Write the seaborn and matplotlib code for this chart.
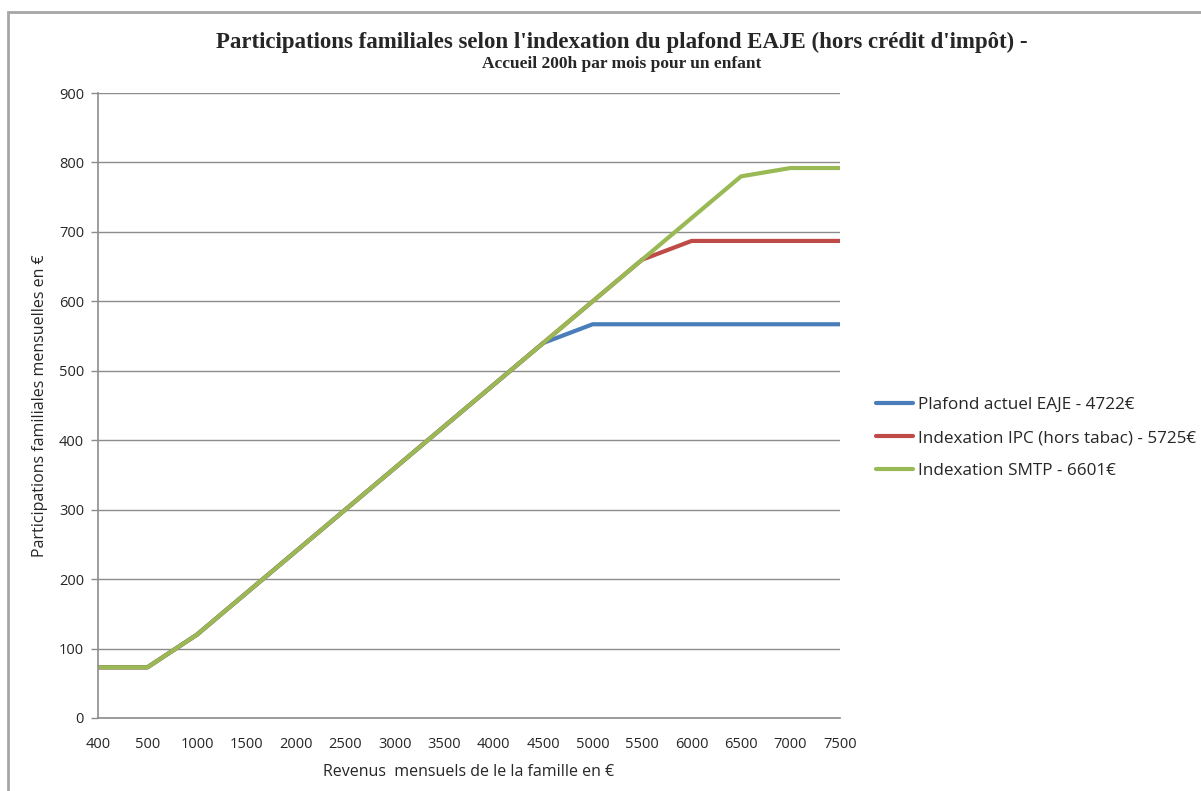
import matplotlib
matplotlib.use("Agg")
import matplotlib.pyplot as plt
import seaborn as sns
import pandas as pd
from matplotlib.lines import Line2D

# Monthly family income categories (€)
revenus = ["400", "500", "1000", "1500", "2000", "2500", "3000", "3500",
           "4000", "4500", "5000", "5500", "6000", "6500", "7000", "7500"]

# Monthly family contributions (€) under each ceiling scenario
plafond_actuel = [73, 73, 120, 180, 240, 300, 360, 420, 480, 540, 567, 567, 567, 567, 567, 567]
indexation_ipc = [73, 73, 120, 180, 240, 300, 360, 420, 480, 540, 600, 660, 687, 687, 687, 687]
indexation_smtp = [73, 73, 120, 180, 240, 300, 360, 420, 480, 540, 600, 660, 720, 780, 792, 792]

series_names = ["Plafond actuel EAJE - 4722€",
                "Indexation IPC (hors tabac) - 5725€",
                "Indexation SMTP - 6601€"]
colors = ["#4A7EBB", "#BE4B48", "#98B954"]

rows = []
for name, vals in zip(series_names, [plafond_actuel, indexation_ipc, indexation_smtp]):
    for i, (r, v) in enumerate(zip(revenus, vals)):
        rows.append({"pos": i, "revenu": r, "valeur": v, "serie": name})
df = pd.DataFrame(rows)

sns.set_theme(style="white")
plt.rcParams["font.family"] = ["Open Sans", "DejaVu Sans"]

fig = plt.figure(figsize=(12.01, 7.91), dpi=100)
ax = fig.add_axes([0.0816, 0.0923, 0.6178, 0.7901])

sns.lineplot(data=df, x="pos", y="valeur", hue="serie", palette=colors,
             hue_order=series_names, linewidth=3, ax=ax, legend=False,
             solid_capstyle="round")

ax.set_xlim(0, len(revenus) - 1)
ax.set_ylim(0, 900)
ax.set_xticks(range(len(revenus)))
ax.set_xticklabels(revenus)
ax.set_yticks(range(0, 901, 100))
ax.yaxis.grid(True, color="#8C8C8C", linewidth=1)
ax.xaxis.grid(False)
for side in ["top", "right"]:
    ax.spines[side].set_visible(False)
for side in ["left", "bottom"]:
    ax.spines[side].set_color("#8C8C8C")
    ax.spines[side].set_linewidth(1.2)
ax.tick_params(axis="y", length=5, color="#8C8C8C", width=1, direction="out",
               labelsize=10.5, pad=5, left=True)
ax.tick_params(axis="x", length=0, labelsize=10.5, pad=14)
ax.set_xlabel("Revenus  mensuels de le la famille en €", fontsize=11.5, labelpad=8)
ax.set_ylabel("Participations familiales mensuelles en €", fontsize=11.5, labelpad=8)

fig.text(0.518, 0.946, "Participations familiales selon l'indexation du plafond EAJE (hors crédit d'impôt) -",
         ha="center", va="center", fontsize=16.5, fontweight="bold",
         family=["Liberation Serif", "DejaVu Serif"])
fig.text(0.518, 0.919, "Accueil 200h par mois pour un enfant",
         ha="center", va="center", fontsize=12.5, fontweight="bold",
         family=["Liberation Serif", "DejaVu Serif"])

handles = [Line2D([0], [0], color=c, linewidth=3) for c in colors]
fig.legend(handles, series_names, loc="center left", bbox_to_anchor=(0.722, 0.446),
           frameon=False, fontsize=12.3, handlelength=2.2, handletextpad=0.3,
           labelspacing=1.0, borderpad=0)

# Outer chart frame
frame = plt.Rectangle((8 / 1201, -0.05), 1.2, 1 - 12 / 791 + 0.05,
                      transform=fig.transFigure, fill=False,
                      edgecolor="#A6A6A6", linewidth=2, clip_on=False)
fig.patches.append(frame)

fig.savefig("out.png", dpi=100)
